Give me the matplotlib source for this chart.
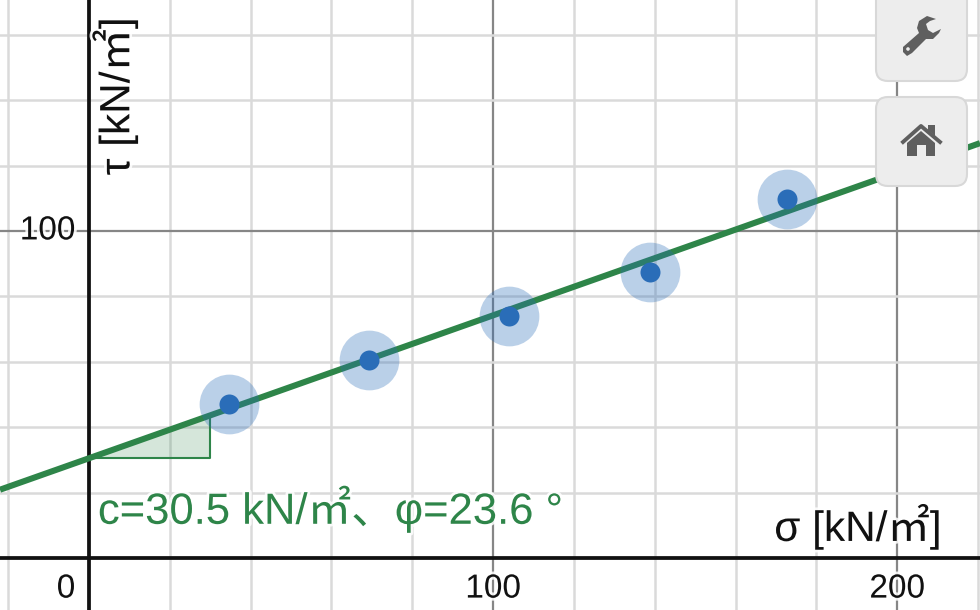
import numpy as np
import matplotlib
matplotlib.use("Agg")
import matplotlib.pyplot as plt
import matplotlib.patheffects as pe
from matplotlib.patches import FancyBboxPatch, Polygon, Circle

plt.rcParams['font.family'] = ['Liberation Sans', 'Noto Sans CJK JP', 'DejaVu Sans']

# data
sigma = [34.7, 69.3, 103.9, 138.8, 172.8]
tau = [47.1, 60.6, 74.0, 87.5, 109.9]
c = 30.5
phi = 23.6
tri_x = 30

x_major = [0, 100, 200]
y_major = [0, 100]
x_minor = np.arange(-20, 221, 20)
y_minor = np.arange(0, 171, 20)

GREEN = '#2e8549'
BLUE = '#2a6db8'
halo = [pe.withStroke(linewidth=4, foreground='white', alpha=0.85)]

fig = plt.figure(figsize=(9.8, 6.1), dpi=100)
ax = fig.add_axes([0, 0, 1, 1])
ax.set_xlim(-22.03, 220.5)
ax.set_ylim(-15.9, 170.6)

# grid
ax.set_xticks(x_minor, minor=True)
ax.set_yticks(y_minor, minor=True)
ax.set_xticks(x_major)
ax.set_yticks(y_major)
ax.grid(which='minor', color='#dadada', lw=1.8, zorder=0)
ax.grid(which='major', color='#868686', lw=1.6, zorder=1)
ax.tick_params(which='both', length=0, labelbottom=False, labelleft=False)
for s in ax.spines.values():
    s.set_visible(False)
ax.set_axisbelow(True)
ax.axhline(0, color='#111111', lw=2.7, zorder=2)
ax.axvline(0, color='#111111', lw=2.7, zorder=2)

# fit line and slope triangle
slope = np.tan(np.radians(phi))
xs = np.array(ax.get_xlim())
tri = Polygon([(0, c), (tri_x, c), (tri_x, c + tri_x * slope)], closed=True,
              facecolor=GREEN, alpha=0.2, edgecolor='none', zorder=3)
ax.add_patch(tri)
ax.plot([0, tri_x, tri_x], [c, c, c + tri_x * slope], color=GREEN, lw=1.5, zorder=3)
ax.plot(xs, c + slope * xs, color=GREEN, lw=4.4, zorder=4, solid_capstyle='butt')

# points
ax.scatter(sigma, tau, s=43 ** 2, color=BLUE, alpha=0.32, linewidths=0, zorder=5)
ax.scatter(sigma, tau, s=14.4 ** 2, color=BLUE, linewidths=0, zorder=6)

# labels
ax.text(-5.7, -9.5, '0', fontsize=24, ha='center', va='center', color='#111111', path_effects=halo, zorder=7)
ax.text(100, -9.5, '100', fontsize=24, ha='center', va='center', color='#111111', path_effects=halo, zorder=7)
ax.text(200, -9.5, '200', fontsize=24, ha='center', va='center', color='#111111', path_effects=halo, zorder=7)
ax.text(-3.4, 100, '100', fontsize=24, ha='right', va='center', color='#111111', path_effects=halo, zorder=7)
ax.text(2.2, 14.9, 'c=30.5 kN/㎡、φ=23.6 °', fontsize=31.4, color=GREEN, ha='left', va='center',
        path_effects=halo, zorder=7)
ax.text(211, 9.5, 'σ [kN/㎡]', fontsize=30.5, color='#111111', ha='right', va='center',
        path_effects=halo, zorder=7)
ax.text(6.5, 117, 'τ [kN/㎡]', fontsize=30.5, color='#111111', rotation=90, ha='center', va='bottom',
        path_effects=halo, zorder=7)

# buttons, drawn in pixel coordinates
ui = fig.add_axes([0, 0, 1, 1])
ui.set_xlim(0, 980)
ui.set_ylim(610, 0)
ui.axis('off')
ui.patch.set_alpha(0)

for top, bot in [(-30, 81), (97, 186)]:
    ui.add_patch(FancyBboxPatch((880, top + 4), 83, bot - top - 8,
                                boxstyle='round,pad=4,rounding_size=12',
                                facecolor='#ededed', edgecolor='#d8d8d8', lw=1.5, zorder=10))

ICON = '#5f5f5f'
# wrench
wrench = [(936, 19), (927, 16), (919, 21), (917, 28), (919, 33), (903, 47), (903, 52), (907, 56),
          (912, 53), (926, 39), (933, 39), (939, 33), (941, 29), (933, 33), (928, 30), (926, 24), (930, 21)]
ui.add_patch(Polygon(wrench, closed=True, facecolor=ICON, edgecolor='none', zorder=11))
ui.add_patch(Circle((908, 49), 1.8, facecolor='#ededed', edgecolor='none', zorder=12))
# house
ui.add_patch(Polygon([(907, 143), (921, 131), (935, 143), (935, 156), (926, 156), (926, 145),
                      (917, 145), (917, 156), (907, 156)], closed=True, facecolor=ICON,
                     edgecolor='none', zorder=11))
ui.plot([903, 921, 940], [142, 126, 142], color=ICON, lw=2.8, zorder=11)
ui.add_patch(Polygon([(928, 125), (935, 125), (935, 136), (928, 130)], closed=True, facecolor=ICON,
                     edgecolor='none', zorder=11))

fig.savefig('out.png', dpi=100)
